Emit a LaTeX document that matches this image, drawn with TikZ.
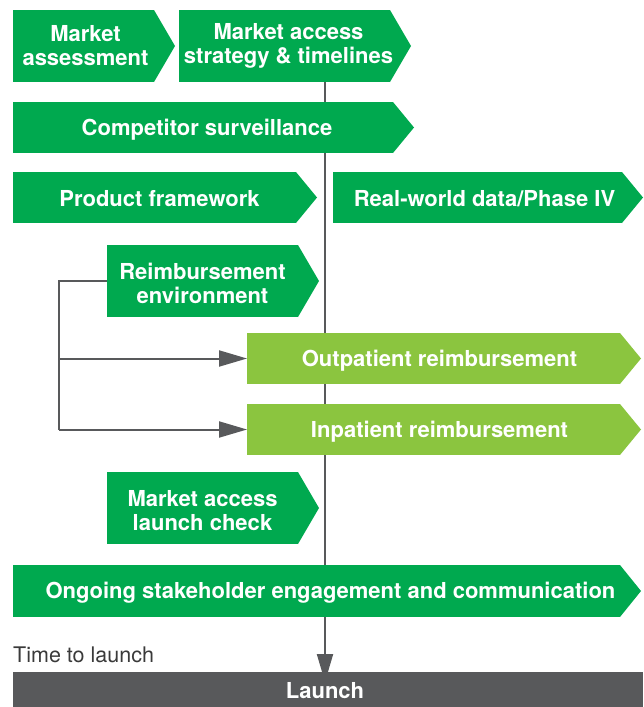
\documentclass[tikz,border=0pt]{standalone}
\usepackage{fontspec}
\setmainfont{TeX Gyre Heros}
\usetikzlibrary{calc,arrows.meta,backgrounds}

\definecolor{stagegreen}{HTML}{00A94F}
\definecolor{stagelight}{HTML}{8BC53F}
\definecolor{linegray}{HTML}{58595B}
\definecolor{notegray}{HTML}{3A3A3A}

\tikzset{
  stagebody/.style={fill=#1, inner sep=0pt, outer sep=0pt, anchor=north west},
  stagetext/.style={text=white, font=\bfseries\fontsize{22}{24}\selectfont, align=center, inner sep=0pt},
  flowline/.style={draw=linegray, line width=2pt},
  flowarrow/.style={flowline, -{Triangle[length=28pt,width=16pt]}},
}

% body rectangle (named), pointed tip on the right, white caption
% #1 name, #2 x, #3 y, #4 body width, #5 height, #6 colour, #7 caption shift (x,y), #8 caption
\newcommand\stagebox[8]{%
  \node[stagebody=#6, minimum width=#4pt, minimum height=#5pt] (#1) at (#2,#3) {};
  \fill[#6] (#1.north east) -- ($(#1.east)+(21,0)$) -- (#1.south east) -- cycle;
  \node[stagetext] (#1-text) at ($(#1.center)+#7$) {#8};
}

\begin{document}
\begin{tikzpicture}[x=1pt, y=-1pt]
  \useasboundingbox (0,0) rectangle (643,707);

  \stagebox{assess}{13}{10}{141}{72}{stagegreen}{(2,0)}{Market\\assessment}
  \stagebox{strategy}{179}{10}{211}{72}{stagegreen}{(4,0)}{Market access\\strategy \& timelines}
  \stagebox{competitor}{13}{102}{380}{51}{stagegreen}{(4,2)}{Competitor surveillance}
  \stagebox{product}{13}{172}{283}{51}{stagegreen}{(5,1.5)}{Product framework}
  \stagebox{rwd}{333}{172}{289}{51}{stagegreen}{(7,1.5)}{Real-world data/Phase IV}
  \stagebox{reimb}{107}{245}{191}{72}{stagegreen}{(0,2.5)}{Reimbursement\\environment}
  \stagebox{outpat}{247}{333}{373}{51}{stagelight}{(6,2)}{Outpatient reimbursement}
  \stagebox{inpat}{247}{404}{373}{51}{stagelight}{(6,2)}{Inpatient reimbursement}
  \stagebox{check}{107}{472}{191}{72}{stagegreen}{(0,3)}{Market access\\launch check}
  \stagebox{ongoing}{13}{565}{607}{52}{stagegreen}{(14,2)}{Ongoing stakeholder engagement and communication}

  % launch bar
  \node[stagebody=linegray, minimum width=630pt, minimum height=35pt] (launch) at (13,672) {};
  \node[stagetext] (launch-text) at ($(launch.center)+(-3,1.5)$) {Launch};

  \node[anchor=west, inner sep=0pt, text=notegray, font=\fontsize{21.5}{24}\selectfont] (ttl) at (13,655) {Time to launch};

  % time axis, behind the stages
  \coordinate (axis) at (325,0);
  \begin{scope}[on background layer]
    \draw[flowarrow] (strategy.south -| axis) -- ($(launch.north -| axis)+(0,10)$);
  \end{scope}

  % reimbursement split
  \coordinate (split) at ($(reimb.west)+(-48,0)$);
  \draw[flowline] (reimb.west) -- (split) -- (split |- inpat.west);
  \draw[flowarrow] (split |- outpat.west) -- (outpat.west);
  \draw[flowarrow] (split |- inpat.west) -- (inpat.west);
\end{tikzpicture}
\end{document}
